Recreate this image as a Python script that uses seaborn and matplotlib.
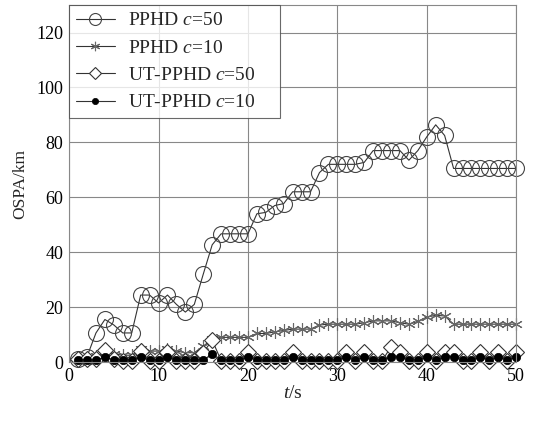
import numpy as np
import pandas as pd
import seaborn as sb
from matplotlib import pyplot as plt

t = list(range(1, 51))

pphd_50 = [1, 2, 10.6, 15.5, 13.5, 10.6, 10.6, 24.4, 24.4, 21.5,
           24.4, 21, 18.2, 21, 32, 42.7, 46.7, 46.7, 46.7, 46.7,
           54, 54.5, 57, 57.7, 62, 62, 62, 69, 72, 72,
           72, 72, 72.7, 77, 77, 77, 77, 73.5, 77, 82,
           86.4, 82.5, 70.5, 70.5, 70.5, 70.5, 70.5, 70.5, 70.5, 70.5]

pphd_10 = [1, 1, 2.2, 3.4, 3, 2.5, 2.5, 4.7, 4, 4,
           4.7, 4, 3.4, 3.4, 5.8, 8.3, 9, 9, 9, 9,
           10.4, 10.4, 11, 11.5, 12, 12, 12, 13.5, 13.8, 13.8,
           13.8, 13.8, 14.3, 15, 15, 15, 14.3, 13.8, 14.8, 16.4,
           17, 16.8, 13.8, 13.8, 13.8, 13.8, 13.8, 13.8, 13.8, 13.8]

ut_pphd_50 = [1, 1, 1, 4.5, 1, 0.5, 0.5, 4, 0.5, 0.5,
              3.5, 0.5, 0.5, 0.5, 3.4, 8, 0.5, 0.5, 0.5, 3.5,
              0.5, 0.5, 0.5, 0.5, 3.5, 0.5, 0.5, 0.5, 0.5, 0.5,
              3.5, 0.5, 3.5, 0.5, 0.5, 5.5, 3.5, 0.5, 0.5, 3.5,
              0.5, 3.5, 3.5, 0.5, 0.5, 3.5, 0.5, 3.5, 0.5, 3.5]

ut_pphd_10 = [0.8, 0.8, 0.8, 1.8, 0.8, 0.8, 0.8, 1.8, 0.8, 0.8,
              1.8, 0.8, 0.8, 0.8, 0.8, 2.8, 0.8, 0.8, 0.8, 1.8,
              0.8, 0.8, 0.8, 0.8, 1.8, 0.8, 0.8, 0.8, 0.8, 0.8,
              1.8, 0.8, 1.8, 0.8, 0.8, 1.8, 1.8, 0.8, 0.8, 1.8,
              0.8, 1.8, 1.8, 0.8, 0.8, 1.8, 0.8, 1.8, 0.8, 1.8]

labels = ['PPHD $c$=50', 'PPHD $c$=10', 'UT-PPHD $c$=50', 'UT-PPHD $c$=10']

sb.set_style('white')
plt.rcParams['font.family'] = ['Liberation Serif', 'DejaVu Serif']
plt.rcParams['mathtext.fontset'] = 'custom'
plt.rcParams['mathtext.rm'] = 'Liberation Serif'
plt.rcParams['mathtext.it'] = 'Liberation Serif:italic'

fig = plt.figure(figsize=(5.36, 4.21), dpi=100)
ax = fig.add_axes([0.129, 0.140, 0.834, 0.848])

line_kw = dict(color='#333333', linewidth=0.8, clip_on=False, ax=ax)
sb.lineplot(x=t, y=pphd_50, marker='o', markersize=11.5, mfc='none',
            mec='#444444', mew=0.8, label=labels[0], **line_kw)
sb.lineplot(x=t, y=pphd_10, marker=(6, 2, 0), markersize=9,
            mec='#666666', mew=0.8, label=labels[1], **line_kw)
sb.lineplot(x=t, y=ut_pphd_50, marker='D', markersize=8, mfc='white',
            mec='#333333', mew=0.8, label=labels[2], **line_kw)
sb.lineplot(x=t, y=ut_pphd_10, marker='o', markersize=6, mfc='black',
            mec='black', mew=0.5, label=labels[3], **line_kw)

ax.set_xlim(0, 50)
ax.set_ylim(0, 130)
ax.set_xticks(np.arange(0, 51, 10))
ax.set_yticks(np.arange(0, 121, 20))
ax.grid(True, color='#888888', linewidth=0.8)
for s in ax.spines.values():
    s.set_color('#888888')
    s.set_linewidth(0.8)
ax.tick_params(labelsize=13, length=0, pad=4, colors='black')
ax.set_xlabel('$t$/s', fontsize=14, labelpad=0)
ax.set_ylabel('OSPA/km', fontsize=12.5, labelpad=6)

leg = ax.legend(loc='upper left', bbox_to_anchor=(0, 0, 0.472, 1),
                mode='expand', borderaxespad=0, fancybox=False,
                edgecolor='#444444', fontsize=14, handlelength=2.0,
                handletextpad=0.7, labelspacing=0.5, borderpad=0.35,
                markerscale=0.75)
leg.get_frame().set_linewidth(0.8)

plt.savefig('out.png', format='png')
plt.close()
